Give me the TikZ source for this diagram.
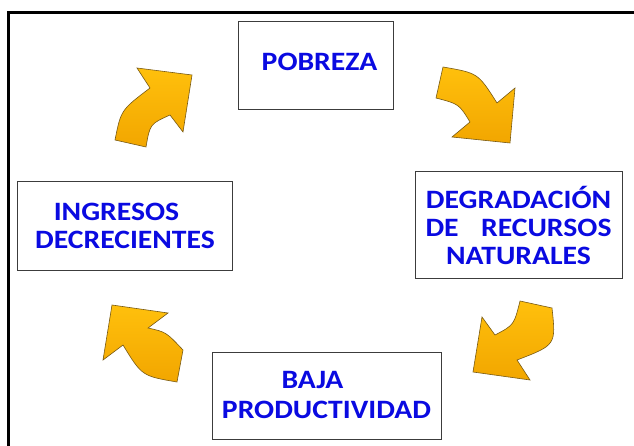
\documentclass[tikz,border=0pt]{standalone}
\usepackage{fontspec}
\newfontfamily\boxfont[FakeStretch=1.12]{Carlito}
\definecolor{txtblue}{RGB}{10,10,225}
\definecolor{arrtop}{RGB}{255,192,12}
\definecolor{arrbot}{RGB}{242,166,0}
\definecolor{arredge}{RGB}{120,90,20}
\definecolor{boxedge}{RGB}{60,60,60}
\tikzset{
  stagebox/.style={draw=boxedge, line width=1bp, fill=white, inner sep=0pt, align=center,
    font=\boxfont\bfseries\fontsize{26.5bp}{28bp}\selectfont, text=txtblue},
  cyclearrow/.style={draw=arredge, line width=0.6bp, top color=arrtop, bottom color=arrbot, line join=miter},
  framerule/.style={line width=3bp, black}
}
\begin{document}
\begin{tikzpicture}[x=1bp,y=-1bp]
\useasboundingbox (0,0) rectangle (634,446);
\fill[white] (0,0) rectangle (634,446);
% frame (top and left only)
\coordinate (fTR) at (634,13);
\coordinate (fTL) at (8,13);
\coordinate (fBL) at (8,446);
\draw[framerule] (fTR) -- (fTL) -- (fBL);

% boxes
\node[stagebox, minimum width=155bp, minimum height=88bp] (pob) at (315.5,66)
  {\hspace*{8bp}\raisebox{8bp}{POBREZA}};
\node[stagebox, minimum width=207bp, minimum height=106bp, text width=186bp] (deg) at (518.5,225)
  {DEGRADACIÓN\\\leavevmode\hbox to 186bp{DE\hfill RECURSOS}\\NATURALES};
\node[stagebox, minimum width=229bp, minimum height=87bp,
  font=\boxfont\bfseries\fontsize{26.5bp}{30bp}\selectfont] (baja) at (326.5,395.5)
  {BAJA\hspace*{28bp}\\PRODUCTIVIDAD};
\node[stagebox, minimum width=214bp, minimum height=88bp] (ing) at (125,226)
  {INGRESOS\hspace*{17bp}\\DECRECIENTES};

% arrows
\path[cyclearrow] (115,140) .. controls (121,110) .. (150,88) -- (137,68) -- (192,75) -- (183,132)
  -- (170,115) .. controls (150,124) .. (146,147) -- cycle;
\path[cyclearrow] (443,67) .. controls (478,73) .. (497,103) -- (515,88) -- (510,143) -- (452,137)
  -- (470,122) .. controls (459,104) .. (436,98) -- cycle;
\path[cyclearrow] (552,308) .. controls (556,345) .. (517,360) -- (530,380) -- (473,372) -- (482,317)
  -- (495,335) .. controls (514,325) .. (520,301) -- cycle;
\path[cyclearrow] (112,305) -- (168,313) -- (148,328) .. controls (166,332) .. (183,350)
  -- (177,382) .. controls (142,376) .. (123,345) -- (103,360) -- cycle;
\end{tikzpicture}
\end{document}
